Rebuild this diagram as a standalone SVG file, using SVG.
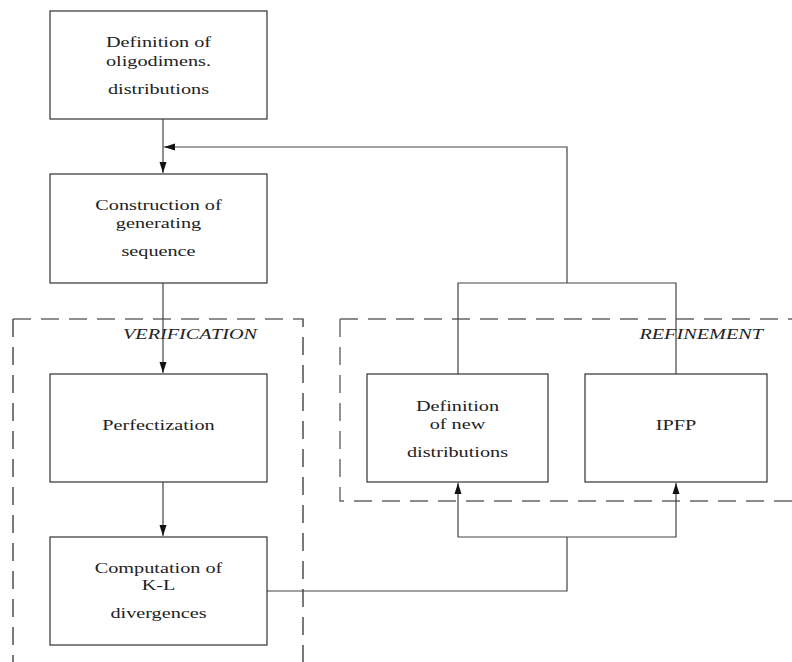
<svg xmlns="http://www.w3.org/2000/svg" width="792" height="662" viewBox="0 0 792 662">
<style>
  .box{fill:#fff;stroke:#333;stroke-width:1.2}
  .conn{fill:none;stroke:#444;stroke-width:1.2}
  .dashA{fill:none;stroke:#222;stroke-width:1.2;stroke-dasharray:18 10}
  .dashB{fill:none;stroke:#666;stroke-width:1.4;stroke-dasharray:18 10}
  text{font-family:"Liberation Serif","Times New Roman",serif;font-size:15px;fill:#222;text-anchor:middle}
  .lbl{font-style:italic;text-anchor:end}
</style>
<defs>
  <marker id="ah" markerUnits="userSpaceOnUse" markerWidth="12" markerHeight="8" viewBox="0 0 12 8" refX="11" refY="4" orient="auto">
    <path d="M0,0.5 L11,4 L0,7.5 z" fill="#111"/>
  </marker>
</defs>
<g id="verification-group">
  <path class="dashA" d="M13,319 V662"/>
  <path class="dashA" d="M13,319 H303 V662"/>
  <g transform="translate(257,0) scale(1.35,1)"><text class="lbl" x="0" y="339">VERIFICATION</text></g>
</g>
<g id="refinement-group">
  <path class="dashB" d="M340,319 H792"/>
  <path class="dashB" d="M340,319 V501 H792"/>
  <g transform="translate(763,0) scale(1.35,1)"><text class="lbl" x="0" y="339">REFINEMENT</text></g>
</g>
<g id="connectors">
  <path class="conn" d="M163,119 V173" marker-end="url(#ah)"/>
  <path class="conn" d="M567,283 V147 H164" marker-end="url(#ah)"/>
  <path class="conn" d="M458,374 V283 H676 V374"/>
  <path class="conn" d="M163,283 V373" marker-end="url(#ah)"/>
  <path class="conn" d="M163,482 V536" marker-end="url(#ah)"/>
  <path class="conn" d="M267,591 H567 V537"/>
  <path class="conn" d="M567,537 H458 V483" marker-end="url(#ah)"/>
  <path class="conn" d="M567,537 H676 V483" marker-end="url(#ah)"/>
</g>
<g id="n1">
  <rect class="box" x="50" y="11" width="217" height="108"/>
  <g transform="translate(158.5,0) scale(1.35,1)">
    <text x="0" y="47.5">Definition of</text>
    <text x="0" y="66">oligodimens.</text>
    <text x="0" y="94">distributions</text>
  </g>
</g>
<g id="n2">
  <rect class="box" x="50" y="174" width="217" height="109"/>
  <g transform="translate(158.5,0) scale(1.35,1)">
    <text x="0" y="210.5">Construction of</text>
    <text x="0" y="228">generating</text>
    <text x="0" y="256">sequence</text>
  </g>
</g>
<g id="n3">
  <rect class="box" x="50" y="374" width="217" height="108"/>
  <g transform="translate(158.5,0) scale(1.35,1)">
    <text x="0" y="430">Perfectization</text>
  </g>
</g>
<g id="n4">
  <rect class="box" x="50" y="537" width="217" height="108"/>
  <g transform="translate(158.5,0) scale(1.35,1)">
    <text x="0" y="573">Computation of</text>
    <text x="0" y="590">K-L</text>
    <text x="0" y="618">divergences</text>
  </g>
</g>
<g id="n5">
  <rect class="box" x="367" y="374" width="181" height="108"/>
  <g transform="translate(457.5,0) scale(1.35,1)">
    <text x="0" y="411.5">Definition</text>
    <text x="0" y="429">of new</text>
    <text x="0" y="457">distributions</text>
  </g>
</g>
<g id="n6">
  <rect class="box" x="585" y="374" width="182" height="108"/>
  <g transform="translate(676,0) scale(1.35,1)">
    <text x="0" y="430">IPFP</text>
  </g>
</g>
</svg>
